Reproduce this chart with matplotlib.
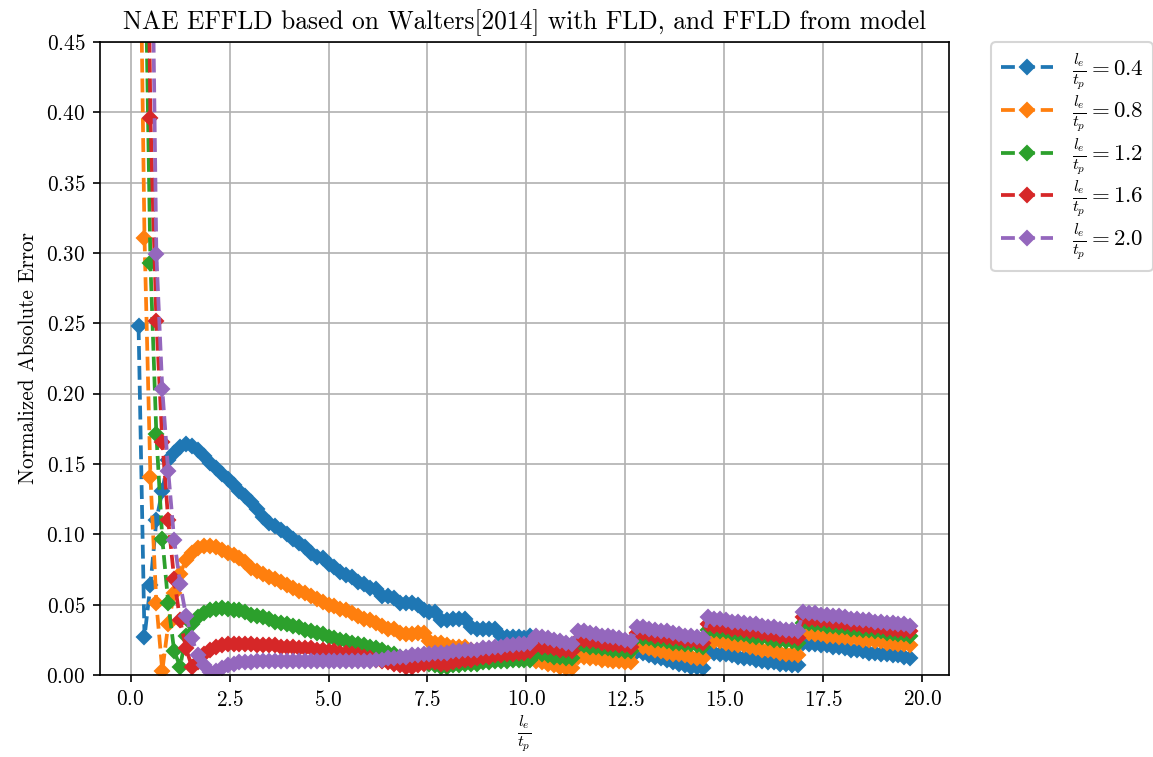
import matplotlib
matplotlib.use("Agg")
import matplotlib.pyplot as plt
import numpy as np

plt.rcParams['font.family'] = 'serif'
plt.rcParams['font.serif'] = ['cmr10']
plt.rcParams['mathtext.fontset'] = 'cm'
plt.rcParams['axes.formatter.use_mathtext'] = True
plt.rcParams['font.size'] = 10.2

# razao l_e/t_p avaliada (0.2 ate 19.7, passo 0.15)
razao = np.arange(131) * 0.15 + 0.2

rotulos = ['0.4', '0.8', '1.2', '1.6', '2.0']

nae_04 = [0.248, 0.027, 0.064, 0.110, 0.131, 0.153, 0.158, 0.162, 0.164, 0.163,
          0.160, 0.156, 0.151, 0.147, 0.143, 0.139, 0.135, 0.131, 0.127, 0.123,
          0.118, 0.112, 0.108, 0.106, 0.103, 0.100, 0.097, 0.094, 0.091, 0.087,
          0.084, 0.083, 0.079, 0.077, 0.073, 0.071, 0.070, 0.066, 0.065, 0.062,
          0.061, 0.056, 0.056, 0.055, 0.051, 0.051, 0.051, 0.050, 0.046, 0.045,
          0.045, 0.039, 0.039, 0.040, 0.040, 0.040, 0.034, 0.033, 0.033, 0.033,
          0.033, 0.028, 0.027, 0.027, 0.027, 0.026, 0.028,
          0.017, 0.016, 0.016, 0.015, 0.014, 0.014, 0.013,
          0.019, 0.018, 0.018, 0.017, 0.016, 0.016, 0.015, 0.014, 0.014, 0.013,
          0.017, 0.016, 0.014, 0.013, 0.012, 0.011, 0.009, 0.008, 0.007, 0.006,
          0.006, 0.005,
          0.017, 0.016, 0.015, 0.015, 0.014, 0.013, 0.012, 0.012, 0.011, 0.010,
          0.009, 0.009, 0.008, 0.008, 0.007, 0.007,
          0.023, 0.022, 0.022, 0.021, 0.021, 0.020, 0.020, 0.019, 0.018, 0.018,
          0.017, 0.016, 0.016, 0.015, 0.015, 0.014, 0.014, 0.013, 0.012]

nae_08 = [0.620, 0.311, 0.141, 0.051, 0.003, 0.036, 0.058, 0.072, 0.082, 0.087,
          0.090, 0.0915, 0.0915, 0.091, 0.089, 0.087, 0.085, 0.083, 0.080, 0.076,
          0.074, 0.072, 0.070, 0.068, 0.066, 0.064, 0.062, 0.060, 0.058, 0.056,
          0.054, 0.052, 0.050, 0.049, 0.047, 0.046, 0.044, 0.042, 0.040, 0.039,
          0.037, 0.035, 0.033, 0.033, 0.030, 0.029, 0.029, 0.030, 0.030, 0.024,
          0.023, 0.023, 0.021, 0.020, 0.020, 0.020, 0.018, 0.017, 0.017, 0.017,
          0.016, 0.015, 0.015, 0.014, 0.014, 0.014, 0.013,
          0.010, 0.009, 0.008, 0.007, 0.006, 0.005, 0.005,
          0.013, 0.013, 0.012, 0.012, 0.011, 0.011, 0.010, 0.010, 0.009, 0.009,
          0.021, 0.020, 0.019, 0.018, 0.017, 0.016, 0.015, 0.015, 0.014, 0.013,
          0.012, 0.012,
          0.025, 0.024, 0.024, 0.023, 0.022, 0.021, 0.021, 0.020, 0.019, 0.018,
          0.018, 0.017, 0.016, 0.015, 0.015, 0.014,
          0.030, 0.030, 0.029, 0.029, 0.028, 0.028, 0.027, 0.027, 0.026, 0.026,
          0.025, 0.025, 0.024, 0.024, 0.023, 0.023, 0.022, 0.022, 0.021]

nae_12 = [0.850, 0.550, 0.293, 0.171, 0.097, 0.051, 0.017, 0.006, 0.028, 0.036,
          0.041, 0.044, 0.046, 0.047, 0.0475, 0.047, 0.0465, 0.046, 0.045, 0.043,
          0.042, 0.041, 0.040, 0.038, 0.037, 0.036, 0.035, 0.034, 0.032, 0.031,
          0.030, 0.029, 0.027, 0.026, 0.025, 0.024, 0.023, 0.022, 0.021, 0.020,
          0.019, 0.018, 0.016, 0.015, 0.013, 0.012, 0.011, 0.010, 0.009, 0.008,
          0.007, 0.006, 0.006, 0.007, 0.007, 0.008, 0.008, 0.008, 0.009, 0.009,
          0.010, 0.010, 0.010, 0.011, 0.011, 0.011, 0.011,
          0.016, 0.015, 0.014, 0.013, 0.013, 0.012, 0.012,
          0.021, 0.021, 0.020, 0.020, 0.019, 0.019, 0.018, 0.018, 0.017, 0.017,
          0.027, 0.026, 0.026, 0.025, 0.025, 0.024, 0.023, 0.023, 0.022, 0.022,
          0.021, 0.020,
          0.032, 0.032, 0.031, 0.031, 0.030, 0.029, 0.029, 0.028, 0.027, 0.027,
          0.026, 0.025, 0.025, 0.024, 0.024, 0.023,
          0.037, 0.037, 0.036, 0.036, 0.035, 0.035, 0.034, 0.034, 0.033, 0.033,
          0.032, 0.032, 0.031, 0.031, 0.030, 0.030, 0.029, 0.029, 0.028]

nae_16 = [1.300, 0.750, 0.396, 0.252, 0.166, 0.110, 0.068, 0.039, 0.019, 0.0055,
          0.009, 0.015, 0.018, 0.020, 0.021, 0.022, 0.022, 0.022, 0.022, 0.022,
          0.021, 0.021, 0.021, 0.021, 0.020, 0.020, 0.020, 0.019, 0.019, 0.019,
          0.018, 0.018, 0.017, 0.017, 0.016, 0.016, 0.015, 0.014, 0.013, 0.012,
          0.011, 0.010, 0.009, 0.008, 0.007, 0.006, 0.006, 0.007, 0.008, 0.009,
          0.009, 0.008, 0.008, 0.009, 0.010, 0.011, 0.011, 0.012, 0.013, 0.013,
          0.014, 0.014, 0.015, 0.015, 0.016, 0.016, 0.017,
          0.021, 0.020, 0.020, 0.019, 0.018, 0.018, 0.017,
          0.025, 0.025, 0.024, 0.024, 0.023, 0.022, 0.022, 0.021, 0.021, 0.020,
          0.030, 0.030, 0.029, 0.028, 0.028, 0.027, 0.026, 0.026, 0.025, 0.025,
          0.024, 0.023,
          0.036, 0.035, 0.035, 0.034, 0.033, 0.033, 0.032, 0.031, 0.031, 0.030,
          0.029, 0.029, 0.028, 0.028, 0.027, 0.026,
          0.041, 0.040, 0.040, 0.039, 0.039, 0.038, 0.038, 0.037, 0.036, 0.036,
          0.035, 0.035, 0.034, 0.034, 0.033, 0.033, 0.032, 0.032, 0.031]

nae_20 = [2.000, 1.200, 0.620, 0.299, 0.203, 0.145, 0.096, 0.065, 0.042, 0.026,
          0.014, 0.007, 0.002, 0.003, 0.005, 0.007, 0.008, 0.009, 0.009, 0.0095,
          0.010, 0.010, 0.010, 0.010, 0.010, 0.010, 0.010, 0.010, 0.010, 0.010,
          0.010, 0.010, 0.010, 0.010, 0.010, 0.010, 0.010, 0.010, 0.010, 0.010,
          0.011, 0.011, 0.012, 0.012, 0.013, 0.013, 0.014, 0.014, 0.015, 0.015,
          0.016, 0.016, 0.016, 0.017, 0.017, 0.018, 0.018, 0.018, 0.019, 0.019,
          0.020, 0.020, 0.021, 0.021, 0.022, 0.022, 0.023,
          0.028, 0.027, 0.026, 0.025, 0.024, 0.023, 0.022,
          0.031, 0.031, 0.030, 0.029, 0.028, 0.028, 0.027, 0.026, 0.025, 0.024,
          0.034, 0.034, 0.033, 0.032, 0.031, 0.031, 0.030, 0.029, 0.028, 0.028,
          0.027, 0.026,
          0.041, 0.040, 0.040, 0.039, 0.038, 0.038, 0.037, 0.036, 0.036, 0.035,
          0.034, 0.034, 0.033, 0.032, 0.032, 0.031,
          0.045, 0.044, 0.044, 0.043, 0.043, 0.042, 0.042, 0.041, 0.040, 0.040,
          0.039, 0.039, 0.038, 0.038, 0.037, 0.037, 0.036, 0.036, 0.035]

series = [nae_04, nae_08, nae_12, nae_16, nae_20]

fig, ax = plt.subplots(figsize=(1153 / 150, 757 / 150), dpi=150)
fig.subplots_adjust(left=0.0867, right=0.823, bottom=0.1083, top=0.9445)

for valores, rotulo in zip(series, rotulos):
    ax.plot(razao, valores, '--D', markersize=5, linewidth=1.8,
            label=r'$\frac{l_e}{t_p} = ' + rotulo + '$')

ax.set_ylim(0, 0.45)
ax.grid(True)
ax.set_title('NAE EFFLD based on Walters[2014] with FLD, and FFLD from model')
ax.set_xlabel(r'$\frac{l_e}{t_p}$', fontsize=11, labelpad=2)
ax.set_ylabel('Normalized Absolute Error')
ax.legend(bbox_to_anchor=(1.05, 1), loc='upper left', borderaxespad=0.,
          fontsize=11, labelspacing=0.1, handlelength=2.3)

fig.savefig('out.png', dpi=150)
